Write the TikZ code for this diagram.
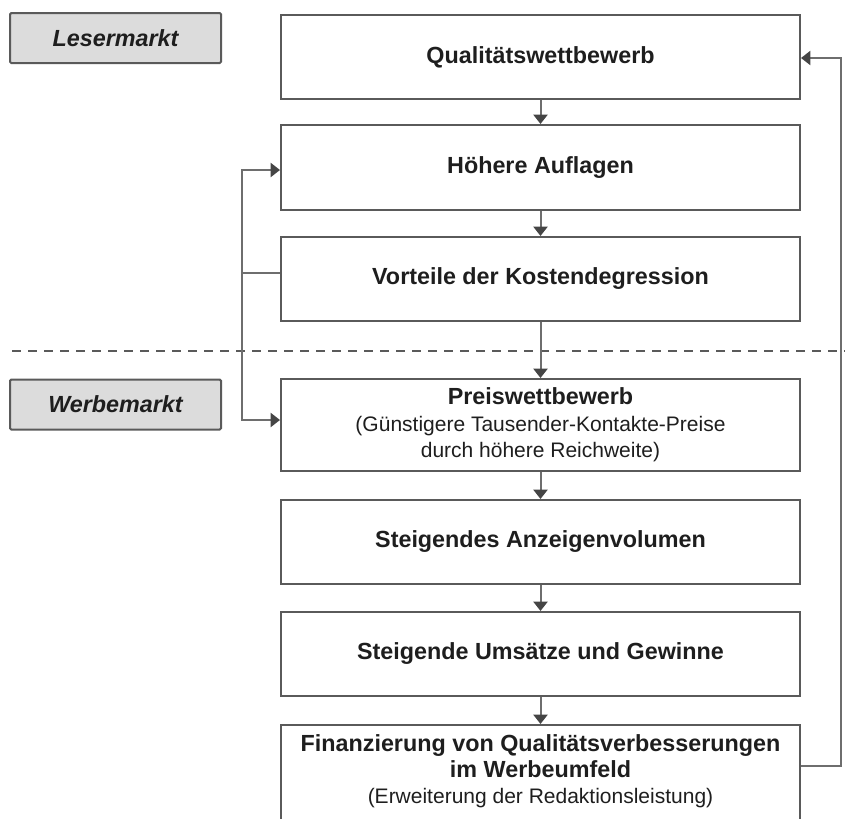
\documentclass[tikz,border=0pt]{standalone}
\usepackage{fontspec}
\setmainfont{Liberation Sans}
\usetikzlibrary{arrows.meta}

\definecolor{edge}{HTML}{5A5A5A}
\definecolor{wire}{HTML}{6E6E6E}
\definecolor{tipc}{HTML}{454545}
\definecolor{labelfill}{HTML}{DCDCDC}
\definecolor{ink}{HTML}{1E1E1E}

\newcommand{\headfont}{\bfseries\fontsize{17.5}{19.5}\selectfont}
\newcommand{\notefont}{\mdseries\fontsize{15.75}{18}\selectfont}

\begin{document}
\begin{tikzpicture}[x=0.75pt,y=-0.75pt,
  box/.style={draw=edge, line width=1.5pt, minimum width=389.25pt,
    minimum height=63pt, inner sep=0pt, align=center, text=ink, font=\headfont},
  plain/.style={inner sep=0pt, align=center, text=ink, font=\headfont},
  market/.style={draw=edge, fill=labelfill, line width=1.5pt, rounded corners=1pt,
    minimum width=158.25pt, minimum height=37.5pt, inner sep=0pt, text=ink,
    font=\bfseries\itshape\fontsize{17.5}{21}\selectfont},
  wireline/.style={draw=wire, line width=1.5pt},
  flow/.style={wireline, -{Triangle[length=7pt,width=10.5pt,color=tipc]}},
  divider/.style={draw=edge, line width=1.4pt, dash pattern=on 7pt off 5pt}
]
\useasboundingbox (0,0) rectangle (845,818);

% market labels
\node[market] (leser) at (115.5,38) {Lesermarkt};
\node[market] (werbe) at (115.5,404.5) {Werbemarkt};

% boundary between reader market and advertising market
\coordinate (dl) at (12,351);
\coordinate (dr) at (845,351);
\draw[divider] (dl) -- (dr);

% chain of effects
\node[box] (q1) at (540.5,57) {Qualitätswettbewerb};
\node[box, minimum height=63.75pt] (q2) at (540.5,167.5) {Höhere Auflagen};
\node[box] (q3) at (540.5,279) {Vorteile der Kostendegression};
\node[box, minimum height=69pt] (q4) at (540.5,425) {};
\node[plain] (q4t) at (540.5,425) {Preiswettbewerb\\[1pt]
  {\notefont (Günstigere Tausender-Kontakte-Preise}\\
  {\notefont durch höhere Reichweite)}};
\node[box] (q5) at (540.5,542) {Steigendes Anzeigenvolumen};
\node[box] (q6) at (540.5,654) {Steigende Umsätze und Gewinne};
\node[box, minimum height=90pt, anchor=north] (q7) at (540.5,724) {};
\node[plain] (q7t) at (540.5,771) {Finanzierung von Qualitätsverbesserungen\\
  im Werbeumfeld\\
  {\notefont (Erweiterung der Redaktionsleistung)}};

% downward arrows
\draw[flow] (q1.south) -- (q2.north);
\draw[flow] (q2.south) -- (q3.north);
\draw[flow] (q3.south) -- (q4.north);
\draw[flow] (q4.south) -- (q5.north);
\draw[flow] (q5.south) -- (q6.north);
\draw[flow] (q6.south) -- (q7.north);

% cost degression feeds back into circulation and price competition
\coordinate (j) at (242,273);
\coordinate (up) at (242,170);
\coordinate (down) at (242,420);
\draw[wireline] (j -| q3.west) -- (j);
\draw[flow] (j) -- (up) -- (up -| q2.west);
\draw[flow] (j) -- (down) -- (down -| q4.west);

% financing returns to quality competition
\coordinate (r1) at (841,766);
\coordinate (r2) at (841,58);
\draw[flow] (r1 -| q7.east) -- (r1) -- (r2) -- (r2 -| q1.east);
\end{tikzpicture}
\end{document}
